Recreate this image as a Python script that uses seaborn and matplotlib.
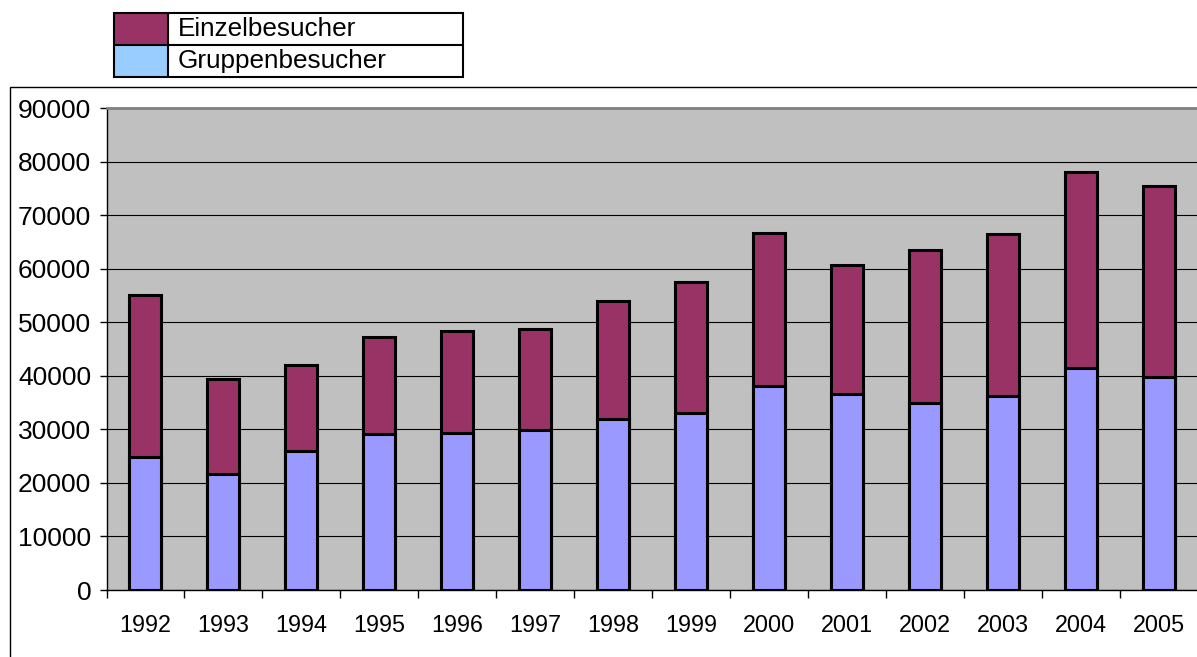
import numpy as np
import pandas as pd
import matplotlib
matplotlib.use("Agg")
import matplotlib.pyplot as plt
from matplotlib.patches import Rectangle
from matplotlib.lines import Line2D
import seaborn as sns

# Besucherzahlen je Jahr
years = ["1992", "1993", "1994", "1995", "1996", "1997", "1998",
         "1999", "2000", "2001", "2002", "2003", "2004", "2005"]
gruppen = [24830, 21680, 26040, 29060, 29400, 29870, 31950,
           33090, 38120, 36640, 34970, 36310, 41410, 39730]
einzel_total = [55170, 39400, 42080, 47180, 48320, 48720, 53960,
                57580, 66710, 60670, 63420, 66380, 77990, 75440]

df = pd.DataFrame({"Jahr": years, "Gruppenbesucher": gruppen, "Gesamt": einzel_total})
df["Einzelbesucher"] = df["Gesamt"] - df["Gruppenbesucher"]

col_einzel = "#993366"
col_gruppen = "#9999FF"
col_gruppen_legend = "#99CCFF"

sns.set_style("white")
plt.rcParams["font.family"] = ["Liberation Sans", "DejaVu Sans"]
plt.rcParams["text.color"] = "black"
plt.rcParams["xtick.color"] = "black"
plt.rcParams["ytick.color"] = "black"

fig = plt.figure(figsize=(11.97, 6.57), dpi=100)
ax = fig.add_axes([106.5 / 1197, 67 / 657, (1198 - 106.5) / 1197, (590 - 108) / 657])
ax.set_facecolor("#C0C0C0")

# stacked bars: total first, groups on top
sns.barplot(data=df, x="Jahr", y="Gesamt", color=col_einzel, width=0.41,
            edgecolor="black", linewidth=2.2, saturation=1, ax=ax, zorder=3)
sns.barplot(data=df, x="Jahr", y="Gruppenbesucher", color=col_gruppen, width=0.41,
            edgecolor="black", linewidth=2.2, saturation=1, ax=ax, zorder=4)

ax.set_xlim(-0.5, len(years) - 0.5)
ax.set_ylim(0, 90000)
ax.set_yticks(np.arange(0, 90001, 10000))
ax.set_yticklabels([str(v) for v in range(0, 90001, 10000)], fontsize=19, color="black")
ax.yaxis.grid(True, color="black", linewidth=0.8)
ax.set_axisbelow(True)
ax.tick_params(axis="y", direction="out", length=5, width=1, color="black", pad=6, left=True)

# category boundaries as ticks, year labels centred
ax.set_xticks(np.arange(-0.5, len(years), 1))
ax.set_xticklabels([""] * (len(years) + 1))
ax.set_xticks(np.arange(len(years)), minor=True)
ax.set_xticklabels(years, minor=True, fontsize=16.8, color="black")
ax.tick_params(axis="x", which="major", direction="out", length=6, width=1, color="black", bottom=True)
ax.tick_params(axis="x", which="minor", length=0, pad=17)
ax.set_xlabel("")
ax.set_ylabel("")

for side in ["left", "bottom"]:
    ax.spines[side].set_color("black")
    ax.spines[side].set_linewidth(1)
ax.spines["top"].set_color("#808080")
ax.spines["top"].set_linewidth(2)
ax.spines["right"].set_visible(False)

# outer chart frame
fig.add_artist(Rectangle((10 / 1197, -0.01), 1.1, (657 - 87) / 657 + 0.01,
                         transform=fig.transFigure, facecolor="none",
                         edgecolor="black", linewidth=1))

# table-like legend at the top
W, H = 1197, 657
x0, x1, xs = 114 / W, 463 / W, 168 / W
y_top, y_mid, y_bot = 1 - 13 / H, 1 - 45 / H, 1 - 77 / H
fig.add_artist(Rectangle((x0, y_mid), xs - x0, y_top - y_mid, transform=fig.transFigure,
                         facecolor=col_einzel, edgecolor="none"))
fig.add_artist(Rectangle((x0, y_bot), xs - x0, y_mid - y_bot, transform=fig.transFigure,
                         facecolor=col_gruppen_legend, edgecolor="none"))
fig.add_artist(Rectangle((x0, y_bot), x1 - x0, y_top - y_bot, transform=fig.transFigure,
                         facecolor="none", edgecolor="black", linewidth=1.5))
fig.add_artist(Line2D([x0, x1], [y_mid, y_mid], transform=fig.transFigure, color="black", linewidth=1.5))
fig.add_artist(Line2D([xs, xs], [y_bot, y_top], transform=fig.transFigure, color="black", linewidth=1.5))
fig.text(178 / W, (y_top + y_mid) / 2, "Einzelbesucher", fontsize=18.8, va="center", ha="left")
fig.text(178 / W, (y_mid + y_bot) / 2, "Gruppenbesucher", fontsize=18.8, va="center", ha="left")

fig.savefig("out.png", dpi=100)
